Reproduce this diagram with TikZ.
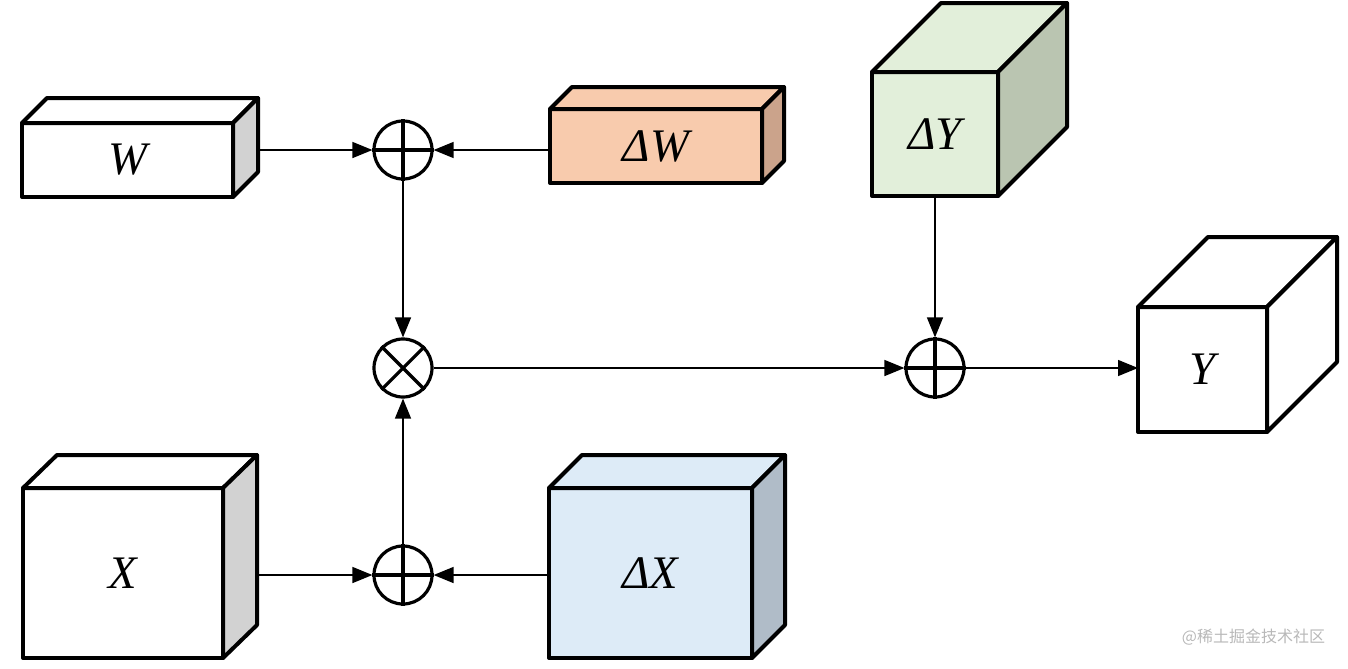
\documentclass[tikz,border=0pt]{standalone}
\usepackage{fontspec}
\setmainfont{Liberation Serif}
\newfontfamily\cjk{Noto Sans CJK SC}
\usetikzlibrary{arrows.meta}

\definecolor{peachfront}{RGB}{248,203,173}
\definecolor{peachside}{RGB}{203,163,139}
\definecolor{greenfront}{RGB}{226,239,218}
\definecolor{greenside}{RGB}{186,197,177}
\definecolor{bluefront}{RGB}{221,235,247}
\definecolor{blueside}{RGB}{176,188,200}
\definecolor{grayside}{RGB}{210,210,210}

\tikzset{every picture/.style={line width=0.75pt}}
\tikzset{
  face/.style={draw, line width=3pt, line join=round, inner sep=0pt, outer sep=0pt},
  boxtext/.style={font=\fontsize{35}{40}\selectfont\itshape},
  op/.style={draw, circle, line width=2.4pt, minimum size=43.5pt, inner sep=0pt},
  conn/.style={line width=1.1pt, -{Triangle[length=15pt,width=12pt]}}
}

\begin{document}
\begin{tikzpicture}[x=0.75pt,y=0.75pt,yscale=-1,xscale=1]
\path[use as bounding box] (0,0) rectangle (1348,668);

%Shape: Cube W
\node[face, boxtext, fill=white, minimum width=158.25pt, minimum height=55.5pt] (W) at (127.5,160) {W};
\draw[face, fill=white] (W.north west) -- ++(25,-25) -- ++(211,0) -- (W.north east) -- cycle ;
\draw[face, fill=grayside] (W.north east) -- ++(25,-25) -- ++(0,74) -- (W.south east) -- cycle ;
\coordinate (Wr) at (258,150);

%Shape: Cube dW
\node[face, boxtext, fill=peachfront, minimum width=159pt, minimum height=55.5pt] (dW) at (656,146) {ΔW};
\draw[face, fill=peachfront] (dW.north west) -- ++(22,-22) -- ++(212,0) -- (dW.north east) -- cycle ;
\draw[face, fill=peachside] (dW.north east) -- ++(22,-22) -- ++(0,74) -- (dW.south east) -- cycle ;

%Shape: Cube dY
\node[face, boxtext, fill=greenfront, minimum width=94.5pt, minimum height=93pt] (dY) at (935,134) {ΔY};
\draw[face, fill=greenfront] (dY.north west) -- ++(69,-69) -- ++(126,0) -- (dY.north east) -- cycle ;
\draw[face, fill=greenside] (dY.north east) -- ++(69,-69) -- ++(0,124) -- (dY.south east) -- cycle ;

%Shape: Cube Y
\node[face, boxtext, fill=white, minimum width=96.75pt, minimum height=93.75pt] (Y) at (1202.5,369.5) {Y};
\draw[face, fill=white] (Y.north west) -- ++(70,-70) -- ++(129,0) -- (Y.north east) -- cycle ;
\draw[face, fill=white] (Y.north east) -- ++(70,-70) -- ++(0,125) -- (Y.south east) -- cycle ;

%Shape: Cube X
\node[face, boxtext, fill=white, minimum width=150pt, minimum height=127.5pt] (X) at (123,573) {X};
\draw[face, fill=white] (X.north west) -- ++(34,-33) -- ++(200,0) -- (X.north east) -- cycle ;
\draw[face, fill=grayside] (X.north east) -- ++(34,-33) -- ++(0,170) -- (X.south east) -- cycle ;
\coordinate (Xr) at (257,575);

%Shape: Cube dX
\node[face, boxtext, fill=bluefront, minimum width=152.25pt, minimum height=127.5pt] (dX) at (650.5,573) {ΔX};
\draw[face, fill=bluefront] (dX.north west) -- ++(33,-33) -- ++(203,0) -- (dX.north east) -- cycle ;
\draw[face, fill=blueside] (dX.north east) -- ++(33,-33) -- ++(0,170) -- (dX.south east) -- cycle ;

%Operators
\node[op] (p1) at (403,150) {};
\draw[line width=2.4pt] (p1.north) -- (p1.south) (p1.west) -- (p1.east) ;
\node[op] (t) at (403,368) {};
\draw[line width=2.4pt] (t.north west) -- (t.south east) (t.north east) -- (t.south west) ;
\node[op] (p2) at (403,575) {};
\draw[line width=2.4pt] (p2.north) -- (p2.south) (p2.west) -- (p2.east) ;
\node[op] (p3) at (935,368) {};
\draw[line width=2.4pt] (p3.north) -- (p3.south) (p3.west) -- (p3.east) ;

%Straight Lines
\draw[conn] (Wr) -- (p1) ;
\draw[conn] (dW.west |- p1) -- (p1) ;
\draw[conn] (p1) -- (t) ;
\draw[conn] (Xr) -- (p2) ;
\draw[conn] (dX.west |- p2) -- (p2) ;
\draw[conn] (p2) -- (t) ;
\draw[conn] (t) -- (p3) ;
\draw[conn] (dY) -- (p3) ;
\draw[conn] (p3) -- (Y.west |- p3) ;

% Text Node
\node[text=black!28, font=\cjk\fontsize{12}{14}\selectfont, anchor=east] (wm) at (1330,637) {@稀土掘金技术社区};

\end{tikzpicture}
\end{document}
